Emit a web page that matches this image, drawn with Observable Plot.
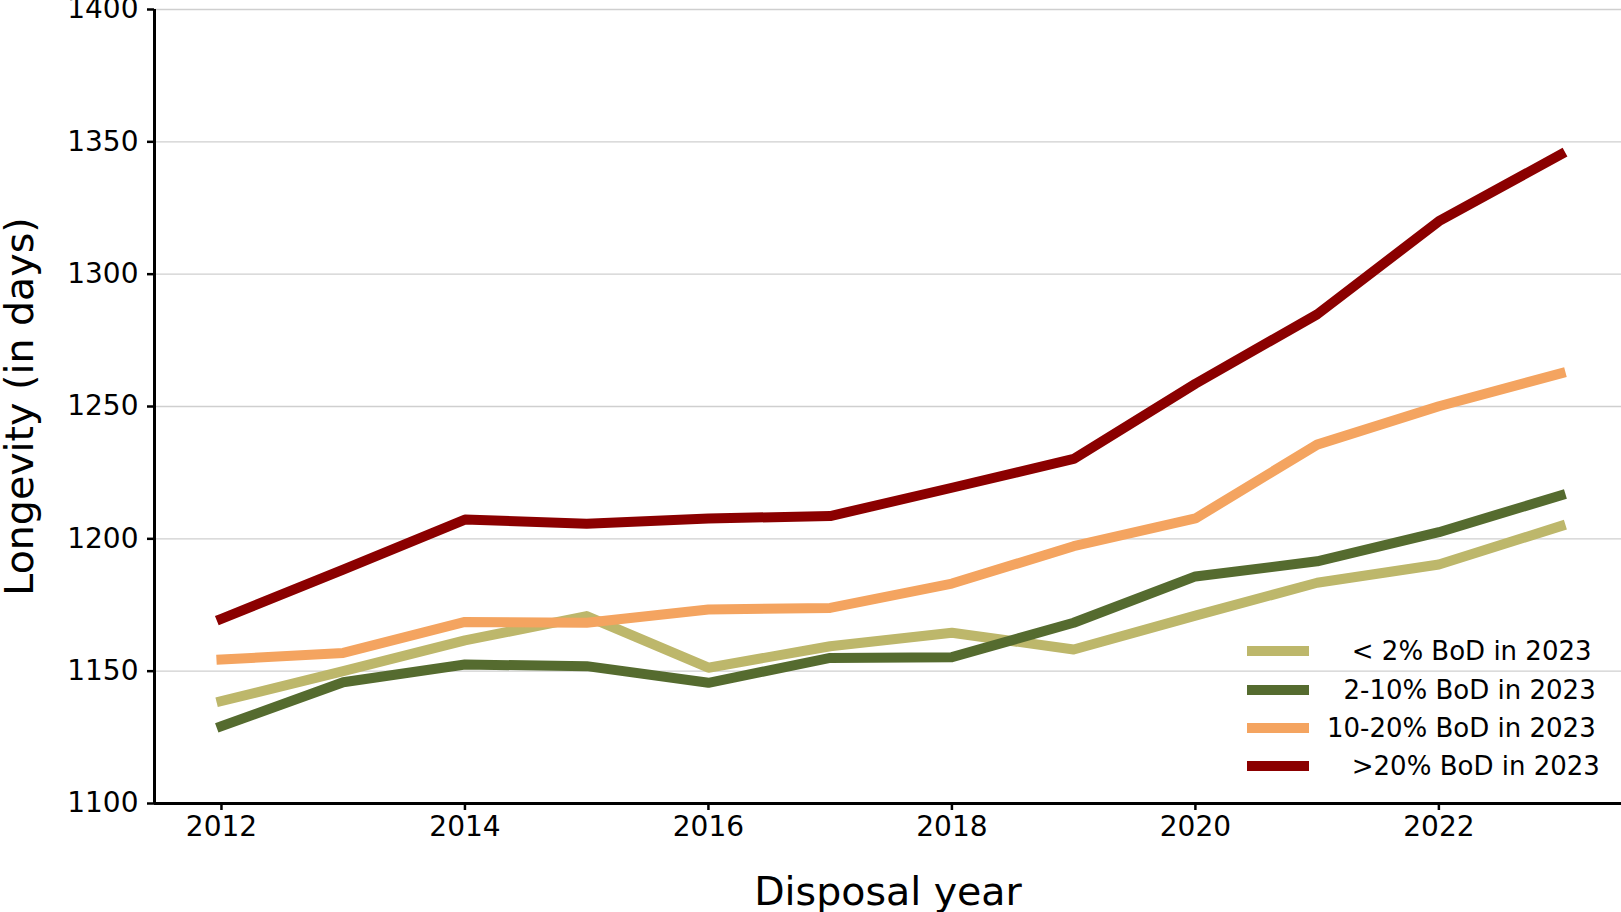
<!DOCTYPE html>
<html>
<head>
<meta charset="utf-8">
<script src="https://cdn.jsdelivr.net/npm/d3@7"></script>
<script src="https://cdn.jsdelivr.net/npm/@observablehq/plot@0.6"></script>
<style>
  html, body { margin: 0; padding: 0; background: #ffffff; }
  #wrap { position: relative; width: 1621px; height: 912px; font-family: "DejaVu Sans", sans-serif; }
  #legend { position: absolute; left: 1247px; top: 632px; font-size: 26px; color: #000; }
  .row { display: flex; align-items: center; height: 38.4px; }
  .sw { width: 62px; height: 10px; margin-right: 18px; }
  .lab { white-space: pre; line-height: 1; }
</style>
</head>
<body>
<div id="wrap"><div id="legend"></div></div>
<script>
// ---- data ----
const years = [2012, 2013, 2014, 2015, 2016, 2017, 2018, 2019, 2020, 2021, 2022, 2023];
const seriesLabels = ["   < 2% BoD in 2023", "  2-10% BoD in 2023", "10-20% BoD in 2023", "   >20% BoD in 2023"];
const seriesColors = ["#bdb76b", "#556b2f", "#f4a460", "#8b0000"];
const lt2 = [1138.7, 1150.0, 1161.6, 1170.8, 1151.3, 1159.4, 1164.5, 1158.2, 1171.0, 1183.4, 1190.3, 1204.8];
const b2to10 = [1129.2, 1145.8, 1152.5, 1151.9, 1145.6, 1155.0, 1155.3, 1168.3, 1185.8, 1191.5, 1202.5, 1216.4];
const b10to20 = [1154.4, 1156.9, 1168.6, 1168.3, 1173.3, 1173.9, 1183.1, 1197.2, 1207.7, 1235.6, 1250.1, 1262.5];
const gt20 = [1169.8, 1188.4, 1207.3, 1205.7, 1207.7, 1208.6, 1219.3, 1230.2, 1258.6, 1284.8, 1320.0, 1345.2];
const xTicks = [2012, 2014, 2016, 2018, 2020, 2022];
const yTicks = [1100, 1150, 1200, 1250, 1300, 1350, 1400];
const xDomain = [2011.45, 2023.5];
const yDomain = [1100, 1400];
const xLabel = "Disposal year";
const yLabel = "Longevity (in days)";

// ---- build table ----
const seriesValues = [lt2, b2to10, b10to20, gt20];
const rows = [];
seriesValues.forEach((vals, i) => {
  vals.forEach((v, j) => rows.push({ year: years[j], value: v, series: seriesLabels[i] }));
});

const chart = Plot.plot({
  width: 1621,
  height: 912,
  marginLeft: 154,
  marginRight: 0,
  marginTop: 9,
  marginBottom: 109,
  style: { fontFamily: "DejaVu Sans", fontSize: "28px", color: "#000", background: "#fff", overflow: "visible" },
  x: { domain: xDomain },
  y: { domain: yDomain },
  color: { domain: seriesLabels, range: seriesColors },
  marks: [
    Plot.gridY(yTicks.filter(t => t > yDomain[0]), { stroke: "#cfcfcf", strokeOpacity: 1, strokeWidth: 1.3 }),
    Plot.line(rows, {
      x: "year", y: "value", z: "series", stroke: "series",
      strokeWidth: 10, strokeLinecap: "square", strokeLinejoin: "round"
    }),
    Plot.ruleY([yDomain[0]], { stroke: "#000", strokeWidth: 3 }),
    Plot.ruleX([xDomain[0]], { stroke: "#000", strokeWidth: 3 }),
    Plot.axisX({ ticks: xTicks, tickFormat: "d", tickSize: 7, tickPadding: 6, strokeWidth: 2.5, label: null, fontSize: 28 }),
    Plot.axisY({ ticks: yTicks, tickFormat: "d", tickSize: 7, tickPadding: 9, strokeWidth: 2.5, label: null, fontSize: 28 }),
    Plot.text([xLabel], { frameAnchor: "bottom", text: d => d, dy: 101, textAnchor: "middle", lineAnchor: "bottom", fontSize: 39.5, fill: "#000" }),
    Plot.text([yLabel], { frameAnchor: "left", text: d => d, dx: -122, rotate: -90, textAnchor: "middle", lineAnchor: "bottom", fontSize: 39.5, fill: "#000" })
  ]
});
document.getElementById("wrap").prepend(chart);

// ---- legend ----
const legend = document.getElementById("legend");
seriesLabels.forEach((lab, i) => {
  const row = document.createElement("div");
  row.className = "row";
  const sw = document.createElement("div");
  sw.className = "sw";
  sw.style.background = seriesColors[i];
  const t = document.createElement("span");
  t.className = "lab";
  t.textContent = lab;
  row.appendChild(sw);
  row.appendChild(t);
  legend.appendChild(row);
});
</script>
</body>
</html>
